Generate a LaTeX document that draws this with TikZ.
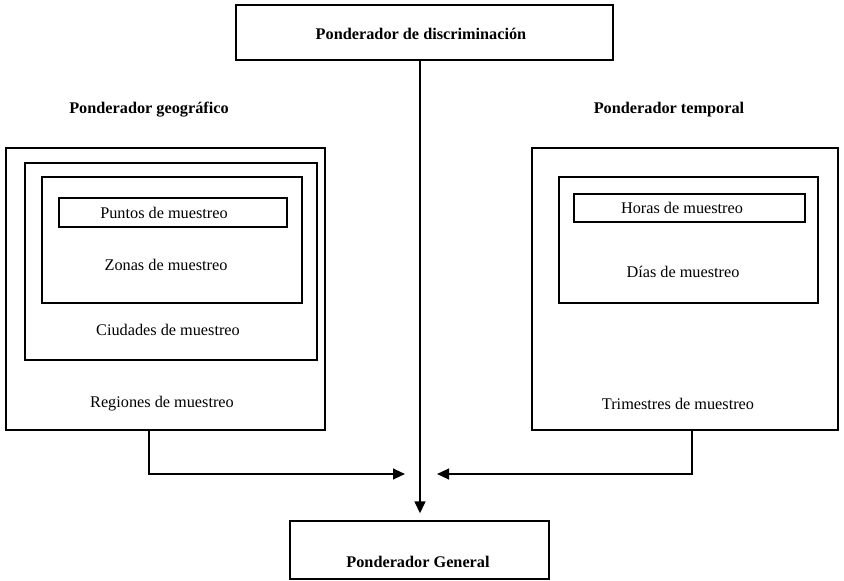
\documentclass[tikz,border=0pt]{standalone}
\usepackage{fontspec}
\setmainfont{Liberation Serif}
\usetikzlibrary{arrows.meta,fit,calc}

\begin{document}
\begin{tikzpicture}[x=0.75pt,y=-0.75pt]
\tikzset{
	outer box/.style = {draw, line width = 1.4pt, inner sep = 0},
	inner box/.style = {draw, line width = 0.9pt, inner sep = 0},
	label/.style = {font = \fontsize{12.2}{14}\selectfont, inner sep = 0},
	title/.style = {font = \fontsize{12.2}{14}\selectfont\bfseries, inner sep = 0},
	flow/.style = {line width = 1.6pt, -{Triangle[length = 9pt, width = 8pt]}},
}
\useasboundingbox (0,0) rectangle (844,581);

% top and bottom
\node(disc)[outer box, fit = {(236,5) (613,60)}]{};
\node[title] at (421,34) {Ponderador de discriminaci\'on};
\node(general)[outer box, fit = {(290,521) (549,579)}]{};
\node[title] at (418,562) {Ponderador General};

% geographic
\node(geo)[title] at (149,110) {Ponderador geogr\'afico};
\node(regiones)[outer box, fit = {(6,148) (325,430)}]{};
\node(ciudades)[inner box, fit = {(25,163) (317,360)}]{};
\node(zonas)[inner box, fit = {(42,177) (302,303)}]{};
\node(puntos)[inner box, fit = {(59,198) (287,227)}]{};
\node[label] at (164,213) {Puntos de muestreo};
\node[label] at (166,265) {Zonas de muestreo};
\node[label] at (168,330) {Ciudades de muestreo};
\node[label] at (162,404) {Regiones de muestreo};

% temporal
\node(temp)[title] at (669,110) {Ponderador temporal};
\node(trimestres)[outer box, fit = {(532,148) (838,430)}]{};
\node(dias)[inner box, fit = {(559,177) (818,303)}]{};
\node(horas)[inner box, fit = {(574,194) (805,222)}]{};
\node[label] at (682,208) {Horas de muestreo};
\node[label] at (683,272) {D\'ias de muestreo};
\node[label] at (678,404) {Trimestres de muestreo};

\coordinate(lend) at (405,474);
\coordinate(rend) at (437,474);

\draw[flow, shorten >= 5] (disc.south -| 420,0) to (general.north -| 420,0);
\draw[flow] (regiones.south -| 149,0) |- (lend);
\draw[flow] (trimestres.south -| 692,0) |- (rend);

\end{tikzpicture}
\end{document}
